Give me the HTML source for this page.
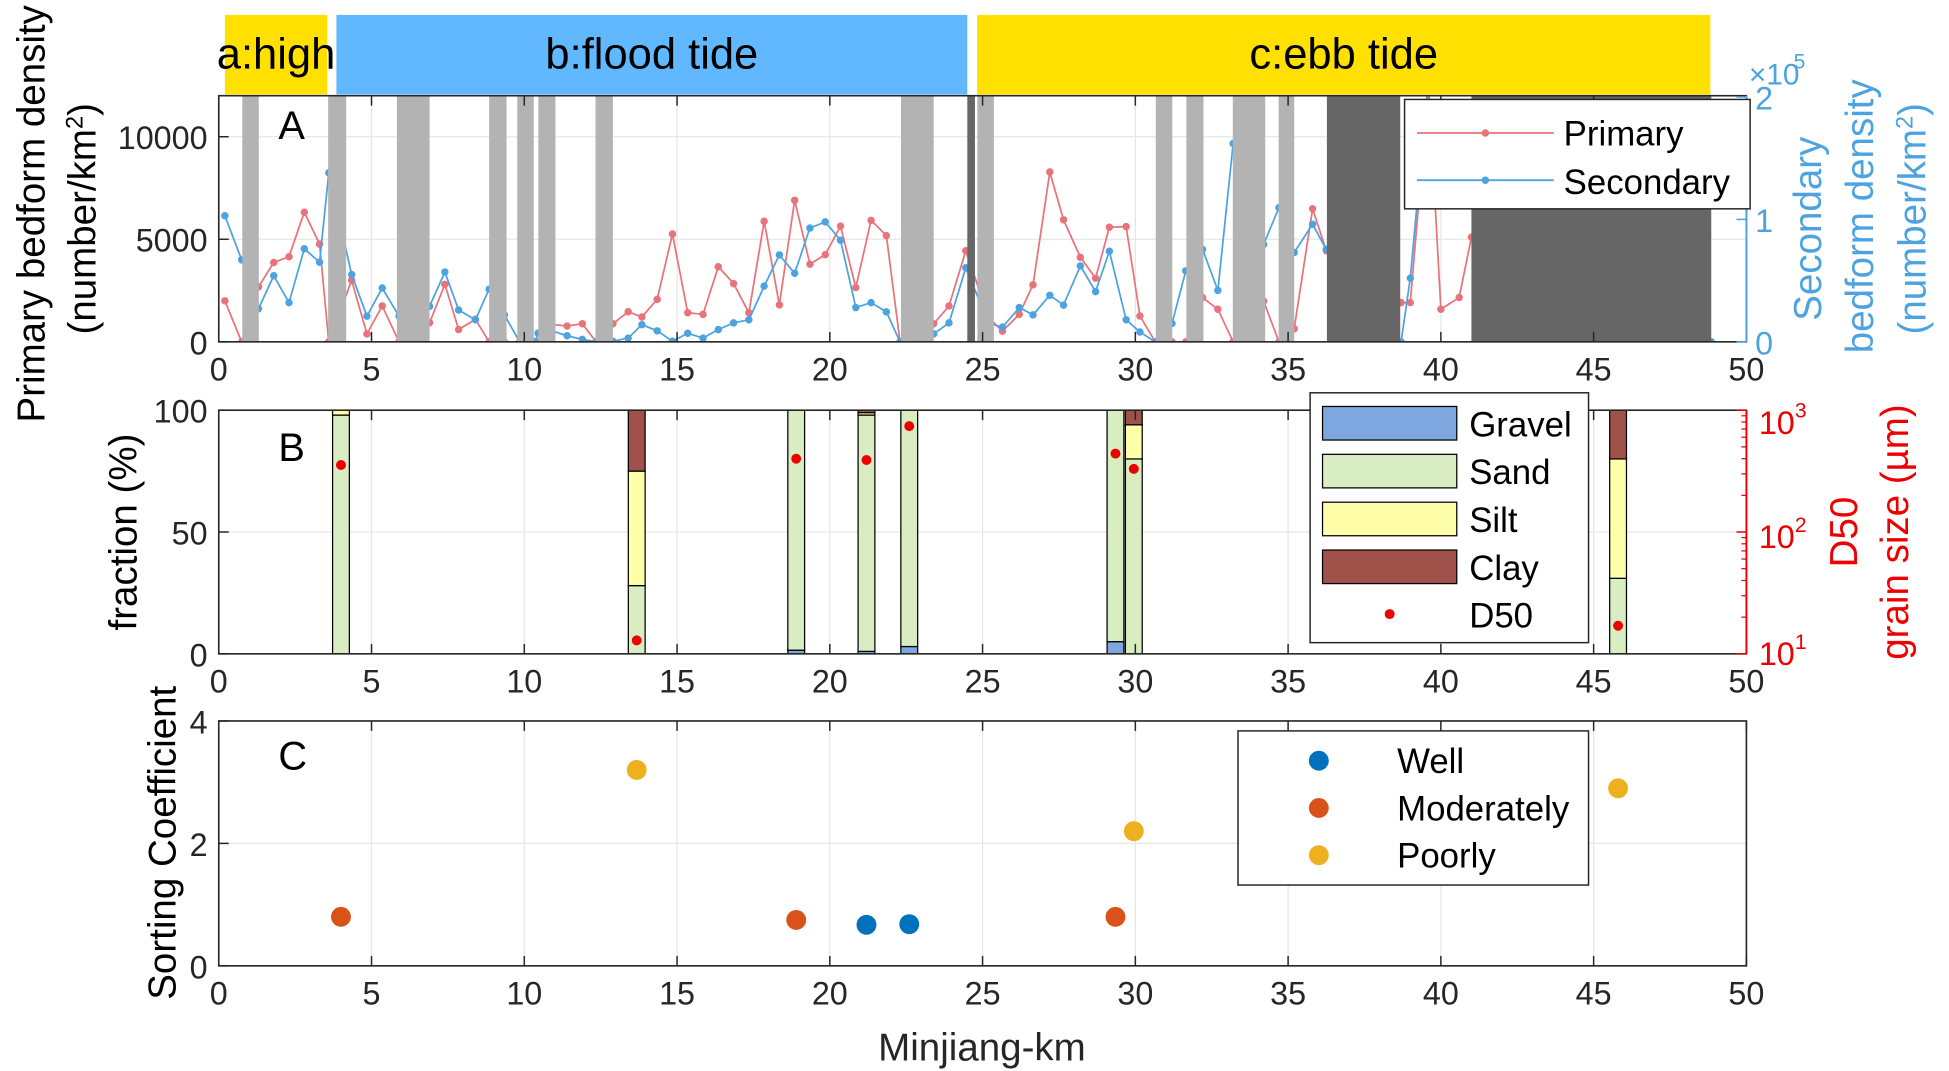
<!DOCTYPE html>
<html><head><meta charset="utf-8"><style>
html,body{margin:0;padding:0;background:#fff;}
svg{display:block;font-family:"Liberation Sans",Arial,sans-serif;}
</style></head><body>
<svg id="chart" width="1949" height="1071" viewBox="0 0 1568 861.6" preserveAspectRatio="none" xmlns="http://www.w3.org/2000/svg">
<defs>
<clipPath id="clipA"><rect x="176" y="77" width="1229" height="198"/></clipPath>
</defs>
<g id="root"></g>
</svg>
<script>
// ---------- data ----------
const phaseNames = ["a:high","b:flood tide","c:ebb tide"];
const phaseStart = [0.2, 3.85, 24.82];
const phaseEnd = [3.55, 24.5, 48.82];
const phaseColor = ["#FFE000","#62B8FF","#FFE000"];

const lightBandStart = [0.77,3.58,5.83,8.85,9.77,10.46,12.33,22.33,24.83,30.67,31.67,33.19,34.69];
const lightBandEnd   = [1.31,4.17,6.9,9.42,10.31,11.02,12.9,23.4,25.37,31.21,32.23,34.25,35.2];
const darkBandStart = [24.5,36.27,41.0];
const darkBandEnd   = [24.75,38.67,48.85];

const kmA = [0.2,0.75,1.3,1.8,2.3,2.8,3.3,3.6,4.35,4.85,5.35,5.9,6.4,6.9,7.4,7.85,8.4,8.85,9.35,9.85,10.35,10.45,10.9,11.4,11.9,12.35,12.9,13.4,13.85,14.35,14.85,15.35,15.85,16.35,16.85,17.35,17.85,18.35,18.85,19.35,19.85,20.35,20.85,21.35,21.85,22.3,22.9,23.4,23.9,24.45,25.2,25.65,26.2,26.65,27.2,27.65,28.2,28.7,29.15,29.7,30.15,30.65,31.2,31.65,32.2,32.7,33.2,33.7,34.2,34.7,35.2,35.8,36.25,38.7,39.0,39.6,40.0,40.6,41.0,48.85];
const primary = [2000,0,2680,3870,4150,6320,4770,0,3000,390,1750,0,500,930,2800,600,1100,0,0,0,0,0,850,770,880,0,880,1470,1210,2070,5260,1420,1340,3660,2840,1420,5880,1800,6900,3790,4250,5640,2650,5920,5180,0,0,880,1750,4440,1180,520,1340,2780,8280,5950,4120,3100,5590,5620,1260,0,0,0,2160,1590,0,0,1990,0,640,6490,4440,1910,1910,12500,1590,2160,5100,0];
const secondary = [1.03,0.67,0.27,0.54,0.32,0.76,0.65,1.38,0.55,0.21,0.44,0.21,0.25,0.29,0.57,0.26,0.18,0.43,0.22,0,0,0.07,0.09,0.05,0.02,0,0.005,0.03,0.14,0.09,0.005,0.07,0.03,0.10,0.155,0.18,0.455,0.71,0.56,0.93,0.98,0.83,0.28,0.32,0.245,0,0,0.065,0.155,0.605,0.15,0.12,0.28,0.22,0.38,0.30,0.62,0.41,0.74,0.18,0.08,0,0.15,0.58,0.755,0.42,1.62,1.0,0.795,1.095,0.73,0.96,0.755,0,0.52,2.17,2.08,2.08,2.08,0];

const kmB = [4.0,13.68,18.9,21.2,22.6,29.35,29.95,45.8];
const gravel = [0,0,1.5,1,3,5,0,0];
const sand = [98,28,98.5,97,97,95,80,31];
const silt = [2,47,0,1,0,0,14,49];
const clay = [0,25,0,1,0,0,6,20];
const d50 = [355,12.9,400,390,740,440,330,17];

const sortKm = [4.0,13.68,18.9,21.2,22.6,29.35,29.95,45.8];
const sortVal = [0.8,3.2,0.75,0.67,0.68,0.8,2.2,2.9];
const sortCls = [1,2,1,0,0,1,2,2];
const sortNames = ["Well","Moderately","Poorly"];
const sortColors = ["#0072BD","#D95319","#EDB120"];

const xTicks = [0,5,10,15,20,25,30,35,40,45,50];
const yTicksA = [0,5000,10000];
const yTicksA2 = [0,1,2];
const yTicksB = [0,50,100];
const yTicksC = [0,2,4];

// ---------- scales ----------
const X0=176, X1=1405;
const x = km => X0 + km*(X1-X0)/50;
const yA = v => 275 - v/12000*198;
const yS = s => 275 - s/2*197;
const yB = p => 526 - p*1.96;
const yD = d => 526 - (Math.log10(d)-1)*98;
const yC = v => 777 - v*49.25;

const NS="http://www.w3.org/2000/svg";
const root=document.getElementById('root');
function mk(tag,attrs,parent){const e=document.createElementNS(NS,tag);for(const k in attrs)e.setAttribute(k,attrs[k]);(parent||root).appendChild(e);return e;}
function txt(s,attrs,parent){const e=mk('text',attrs,parent);e.textContent=s;return e;}
function unitTxt(attrs,color){
  const e=mk('text',attrs);
  const a=document.createElementNS(NS,'tspan');a.textContent='(number/km';e.appendChild(a);
  const b=document.createElementNS(NS,'tspan');b.textContent='2';b.setAttribute('baseline-shift','super');b.setAttribute('font-size','19');e.appendChild(b);
  const c=document.createElementNS(NS,'tspan');c.textContent=')';e.appendChild(c);
  return e;
}

// ---------- phase bar ----------
phaseNames.forEach((n,i)=>{
  const r=mk('rect',{x:x(phaseStart[i]),y:12,width:x(phaseEnd[i])-x(phaseStart[i]),height:64,fill:phaseColor[i]});
  
  
  const t=txt(n,{x:(x(phaseStart[i])+x(phaseEnd[i]))/2,y:55,'font-size':35,'text-anchor':'middle',fill:'#000'});
  
  
});

// ---------- generic axes ----------
function grid(top,bot,yt,yf){
  xTicks.forEach(k=>mk('line',{x1:x(k),x2:x(k),y1:top,y2:bot,stroke:'#e6e6e6','stroke-width':1}));
  yt.forEach(v=>mk('line',{x1:X0,x2:X1,y1:yf(v),y2:yf(v),stroke:'#e6e6e6','stroke-width':1}));
}
function box(top,bot,leftTicks,yf,name){
  const b=mk('rect',{x:X0,y:top,width:X1-X0,height:bot-top,fill:'none',stroke:'#262626','stroke-width':1.3});
  
  
  xTicks.forEach(k=>{
    mk('line',{x1:x(k),x2:x(k),y1:bot,y2:bot-8,stroke:'#262626','stroke-width':1.2});
    mk('line',{x1:x(k),x2:x(k),y1:top,y2:top+8,stroke:'#262626','stroke-width':1.2});
    const t=txt(String(k),{x:x(k),y:bot+31,'font-size':26,'text-anchor':'middle',fill:'#262626'});
    
    
  });
  leftTicks.forEach(v=>{
    mk('line',{x1:X0,x2:X0+8,y1:yf(v),y2:yf(v),stroke:'#262626','stroke-width':1.2});
    const t=txt(String(v),{x:X0-9,y:yf(v)+10,'font-size':26,'text-anchor':'end',fill:'#262626'});
    
    
  });
}

// ---------- Panel A ----------
grid(77,275,yTicksA,yA);
const gA=mk('g',{'clip-path':'url(#clipA)'});
function series(vals,yf,color,nm){
  let d='';kmA.forEach((k,i)=>{d+=(i?'L':'M')+x(k).toFixed(1)+','+yf(vals[i]).toFixed(1);});
  const p=mk('path',{d:d,fill:'none',stroke:color,'stroke-width':1.4},gA);
  
  
  kmA.forEach((k,i)=>{
    const c=mk('circle',{cx:x(k),cy:yf(vals[i]),r:3,fill:color},gA);
    
    
  });
}
series(primary,yA,'#E8737A','primary');
series(secondary,yS,'#4DA3E0','secondary');
lightBandStart.forEach((s,i)=>{
  const r=mk('rect',{x:x(s),y:77,width:x(lightBandEnd[i])-x(s),height:198,fill:'#b3b3b3'},gA);
  
  
});
darkBandStart.forEach((s,i)=>{
  const r=mk('rect',{x:x(s),y:77,width:x(darkBandEnd[i])-x(s),height:198,fill:'#666666'},gA);
  
  
});
box(77,275,yTicksA,yA,'panel-a');
mk('line',{x1:X1,x2:X1,y1:77,y2:275,stroke:'#4DA3E0','stroke-width':1.5});
yTicksA2.forEach(v=>{
  mk('line',{x1:X1,x2:X1-8,y1:yS(v),y2:yS(v),stroke:'#4DA3E0','stroke-width':1.2});
  const t=txt(String(v),{x:X1+7,y:yS(v)+10,'font-size':26,fill:'#4DA3E0'});
  
  
});
let t=txt('×10',{x:1407,y:68,'font-size':24,fill:'#4DA3E0'});
txt('5',{x:1443,y:55,'font-size':17,fill:'#4DA3E0'});
t=txt('A',{x:224,y:112,'font-size':32,fill:'#000'});

// legend A
const lgA=mk('g',{});


mk('rect',{x:1130,y:80,width:278,height:88,fill:'#fff',stroke:'#262626','stroke-width':1.2},lgA);
mk('line',{x1:1140,x2:1250,y1:107,y2:107,stroke:'#E8737A','stroke-width':1.5},lgA);
mk('circle',{cx:1195,cy:107,r:3,fill:'#E8737A'},lgA);
txt('Primary',{x:1258,y:117,'font-size':28,fill:'#000'},lgA);
mk('line',{x1:1140,x2:1250,y1:145,y2:145,stroke:'#4DA3E0','stroke-width':1.5},lgA);
mk('circle',{cx:1195,cy:145,r:3,fill:'#4DA3E0'},lgA);
txt('Secondary',{x:1258,y:156,'font-size':28,fill:'#000'},lgA);

// axis titles A
t=txt('Primary bedform density',{transform:'translate(36,172) rotate(-90)','font-size':31,'text-anchor':'middle',fill:'#000'});

t=unitTxt({transform:'translate(77,176) rotate(-90)','font-size':31,'text-anchor':'middle',fill:'#000'});

t=txt('Secondary',{transform:'translate(1465,184) rotate(-90)','font-size':31,'text-anchor':'middle',fill:'#4DA3E0'});

t=txt('bedform density',{transform:'translate(1507,174) rotate(-90)','font-size':31,'text-anchor':'middle',fill:'#4DA3E0'});

t=unitTxt({transform:'translate(1549,176) rotate(-90)','font-size':31,'text-anchor':'middle',fill:'#4DA3E0'});


// ---------- Panel B ----------
grid(330,526,yTicksB,yB);
const bw=0.55;
const comp=[gravel,sand,silt,clay];
const compCol=['#7DA7DE','#D9EDC2','#FFFFAA','#A0524A'];
const compName=['gravel','sand','silt','clay'];
kmB.forEach((k,i)=>{
  let acc=0;
  comp.forEach((arr,j)=>{
    if(arr[i]<=0)return;
    const r=mk('rect',{x:x(k-bw/2),y:yB(acc+arr[i]),width:x(bw)-X0,height:yB(acc)-yB(acc+arr[i]),fill:compCol[j],stroke:'#000','stroke-width':1});
    
    
    acc+=arr[i];
  });
});
kmB.forEach((k,i)=>{
  const c=mk('circle',{cx:x(k),cy:yD(d50[i]),r:4,fill:'#EE0000'});
  
  
});
box(330,526,yTicksB,yB,'panel-b');
mk('line',{x1:X1,x2:X1,y1:330,y2:526,stroke:'#EE0000','stroke-width':1.5});
[1,2,3].forEach(e=>{
  const yy=yD(Math.pow(10,e));
  mk('line',{x1:X1,x2:X1-8,y1:yy,y2:yy,stroke:'#EE0000','stroke-width':1.2});
  for(let m=2;m<10&&e<3;m++){const ym=yD(m*Math.pow(10,e));mk('line',{x1:X1,x2:X1-4,y1:ym,y2:ym,stroke:'#EE0000','stroke-width':1});}
  const off=(e===3?6:0)-(e===1?4:0);
  const tt=txt('10',{x:X1+10,y:yy+13+off,'font-size':26,fill:'#EE0000'});
  
  
  txt(String(e),{x:X1+39,y:yy+off,'font-size':17,fill:'#EE0000'});
});
t=txt('B',{x:224,y:371,'font-size':32,fill:'#000'});
t=txt('fraction (%)',{transform:'translate(110,428) rotate(-90)','font-size':31,'text-anchor':'middle',fill:'#000'});

t=txt('D50',{transform:'translate(1494,428) rotate(-90)','font-size':31,'text-anchor':'middle',fill:'#EE0000'});

t=txt('grain size (µm)',{transform:'translate(1535,428) rotate(-90)','font-size':31,'text-anchor':'middle',fill:'#EE0000'});


const lgB=mk('g',{});


mk('rect',{x:1054,y:316,width:224,height:201,fill:'#fff',stroke:'#262626','stroke-width':1.2},lgB);
['Gravel','Sand','Silt','Clay'].forEach((n,j)=>{
  const yy=327+j*38.5;
  mk('rect',{x:1064,y:yy,width:108,height:27,fill:compCol[j],stroke:'#000','stroke-width':1},lgB);
  txt(n,{x:1182,y:yy+24,'font-size':28,fill:'#000'},lgB);
});
mk('circle',{cx:1118,cy:494,r:4,fill:'#EE0000'},lgB);
txt('D50',{x:1182,y:505,'font-size':28,fill:'#000'},lgB);

// ---------- Panel C ----------
grid(580,777,yTicksC,yC);
sortKm.forEach((k,i)=>{
  const c=mk('circle',{cx:x(k),cy:yC(sortVal[i]),r:8,fill:sortColors[sortCls[i]]});
  
  
});
box(580,777,yTicksC,yC,'panel-c');
t=txt('C',{x:224,y:619,'font-size':32,fill:'#000'});
t=txt('Sorting Coefficient',{transform:'translate(141,678) rotate(-90)','font-size':31,'text-anchor':'middle',fill:'#000'});

t=txt('Minjiang-km',{x:790,y:853,'font-size':31,'text-anchor':'middle',fill:'#262626'});


const lgC=mk('g',{});


mk('rect',{x:996,y:588,width:282,height:124,fill:'#fff',stroke:'#262626','stroke-width':1.2},lgC);
sortNames.forEach((n,j)=>{
  const yy=612+j*38;
  mk('circle',{cx:1061,cy:yy,r:8,fill:sortColors[j]},lgC);
  txt(n,{x:1124,y:yy+10,'font-size':28,fill:'#000'},lgC);
});
</script>
</body></html>
